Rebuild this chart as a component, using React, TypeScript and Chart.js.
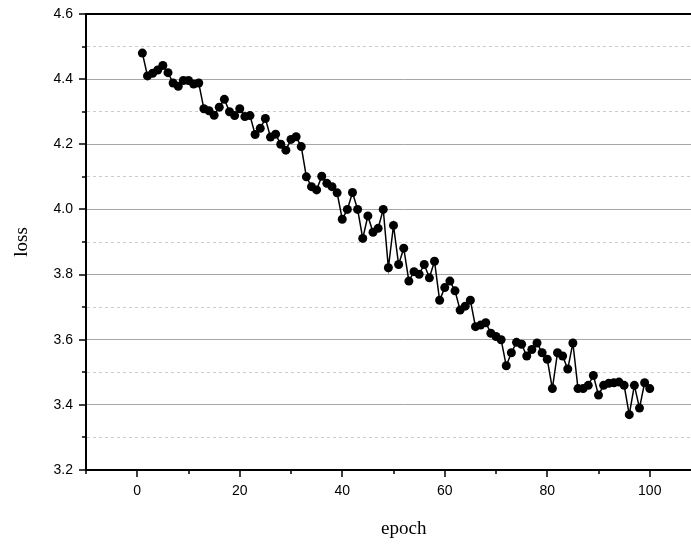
import React, { useEffect, useRef } from "react";
import { Chart, registerables } from "chart.js";

Chart.register(...registerables);

const epochs = [
  1, 2, 3, 4, 5, 6, 7, 8, 9, 10,
  11, 12, 13, 14, 15, 16, 17, 18, 19, 20,
  21, 22, 23, 24, 25, 26, 27, 28, 29, 30,
  31, 32, 33, 34, 35, 36, 37, 38, 39, 40,
  41, 42, 43, 44, 45, 46, 47, 48, 49, 50,
  51, 52, 53, 54, 55, 56, 57, 58, 59, 60,
  61, 62, 63, 64, 65, 66, 67, 68, 69, 70,
  71, 72, 73, 74, 75, 76, 77, 78, 79, 80,
  81, 82, 83, 84, 85, 86, 87, 88, 89, 90,
  91, 92, 93, 94, 95, 96, 97, 98, 99, 100,
];

const lossValues = [
  4.48, 4.41, 4.418, 4.428, 4.442, 4.42, 4.388, 4.378, 4.396, 4.396,
  4.385, 4.388, 4.309, 4.303, 4.289, 4.314, 4.338, 4.3, 4.288, 4.309,
  4.285, 4.288, 4.23, 4.249, 4.279, 4.222, 4.231, 4.2, 4.182, 4.215,
  4.223, 4.193, 4.1, 4.07, 4.06, 4.102, 4.08, 4.07, 4.051, 3.97,
  4.0, 4.052, 4.0, 3.911, 3.98, 3.93, 3.942, 4.0, 3.821, 3.951,
  3.831, 3.881, 3.78, 3.809, 3.801, 3.831, 3.79, 3.841, 3.721, 3.76,
  3.78, 3.75, 3.691, 3.703, 3.721, 3.64, 3.645, 3.652, 3.62, 3.61,
  3.6, 3.52, 3.56, 3.592, 3.586, 3.55, 3.57, 3.59, 3.56, 3.54,
  3.45, 3.56, 3.55, 3.51, 3.59, 3.45, 3.45, 3.46, 3.49, 3.43,
  3.46, 3.466, 3.468, 3.47, 3.46, 3.37, 3.46, 3.39, 3.468, 3.45,
];

const xTickLabels = [0, 20, 40, 60, 80, 100];
const yTickLabels = [3.2, 3.4, 3.6, 3.8, 4.0, 4.2, 4.4, 4.6];

const X_MIN = -10;
const X_MAX = 114;
const Y_MIN = 3.2;
const Y_MAX = 4.6;

const isMajorY = (v: number) => yTickLabels.some((t) => Math.abs(t - v) < 1e-6);
const isMajorX = (v: number) => xTickLabels.some((t) => Math.abs(t - v) < 1e-6);

const axisDecor = {
  id: "axisDecor",
  afterDraw(chart: any) {
    const { ctx, chartArea, scales } = chart;
    ctx.save();
    ctx.strokeStyle = "#000";
    ctx.lineWidth = 1.5;
    const ys = scales.y;
    ys.ticks.forEach((t: any) => {
      const py = Math.round(ys.getPixelForValue(t.value));
      const len = isMajorY(t.value) ? 7 : 4;
      ctx.beginPath();
      ctx.moveTo(chartArea.left, py);
      ctx.lineTo(chartArea.left - len, py);
      ctx.stroke();
    });
    const xs = scales.x;
    xs.ticks.forEach((t: any) => {
      const px = Math.round(xs.getPixelForValue(t.value));
      const len = isMajorX(t.value) ? 7 : 4;
      ctx.beginPath();
      ctx.moveTo(px, chartArea.bottom);
      ctx.lineTo(px, chartArea.bottom + len);
      ctx.stroke();
    });
    ctx.lineWidth = 2;
    ctx.beginPath();
    ctx.moveTo(chartArea.left - 1, chartArea.top);
    ctx.lineTo(chartArea.right, chartArea.top);
    ctx.stroke();
    ctx.restore();
  },
};

export default function App() {
  const canvasRef = useRef<HTMLCanvasElement | null>(null);

  useEffect(() => {
    if (!canvasRef.current) return;
    const points = epochs.map((e, i) => ({ x: e, y: lossValues[i] }));
    const chart = new Chart(canvasRef.current, {
      type: "line",
      data: {
        datasets: [
          {
            data: points,
            borderColor: "#000",
            borderWidth: 1.5,
            backgroundColor: "#000",
            pointBackgroundColor: "#000",
            pointBorderWidth: 0,
            pointRadius: 4.5,
            tension: 0,
          },
        ],
      },
      options: {
        responsive: false,
        animation: false,
        layout: { padding: { top: 14, left: 0, right: 0, bottom: 0 } },
        plugins: {
          legend: { display: false },
          tooltip: { enabled: false },
        },
        scales: {
          x: {
            type: "linear",
            min: X_MIN,
            max: X_MAX,
            afterFit: (scale: any) => {
              scale.height = 75;
              scale.paddingLeft = 0;
              scale.paddingRight = 0;
            },
            ticks: {
              stepSize: 10,
              autoSkip: false,
              includeBounds: false,
              maxRotation: 0,
              padding: 13,
              color: "#000",
              font: { family: "'Liberation Sans', Arial, sans-serif", size: 14 },
              callback: (v: any) => (isMajorX(Number(v)) ? String(v) : ""),
            },
            grid: { drawOnChartArea: false, drawTicks: false },
            border: { display: true, color: "#000", width: 2 },
            title: {
              display: true,
              text: "epoch",
              color: "#000",
              font: { family: "'Liberation Serif', 'Times New Roman', serif", size: 19 },
              padding: { top: 0, bottom: 5 },
            },
          },
          y: {
            type: "linear",
            min: Y_MIN,
            max: Y_MAX,
            afterFit: (scale: any) => {
              scale.width = 86;
              scale.paddingTop = 8;
              scale.paddingBottom = 8;
            },
            ticks: {
              stepSize: 0.1,
              autoSkip: false,
              padding: 13,
              color: "#000",
              font: { family: "'Liberation Sans', Arial, sans-serif", size: 14 },
              callback: (v: any) => (isMajorY(Number(v)) ? Number(v).toFixed(1) : ""),
            },
            grid: {
              drawTicks: false,
              lineWidth: 1,
              color: (c: any) =>
                c.tick && isMajorY(c.tick.value) ? "#a6a6a6" : "#cccccc",
            },
            border: {
              display: true,
              color: "#000",
              width: 2,
              dash: (c: any) => (c.tick && !isMajorY(c.tick.value) ? [3, 3] : []),
            },
            title: {
              display: true,
              text: "loss",
              color: "#000",
              font: { family: "'Liberation Serif', 'Times New Roman', serif", size: 19 },
              padding: { top: 11, bottom: 0 },
            },
          },
        },
      },
      plugins: [axisDecor],
    });
    return () => chart.destroy();
  }, []);

  return (
    <div
      style={{
        position: "fixed",
        left: 0,
        top: 0,
        width: 691,
        height: 545,
        overflow: "hidden",
        background: "#fff",
      }}
    >
      <canvas ref={canvasRef} width={726} height={545} style={{ display: "block" }} />
    </div>
  );
}
